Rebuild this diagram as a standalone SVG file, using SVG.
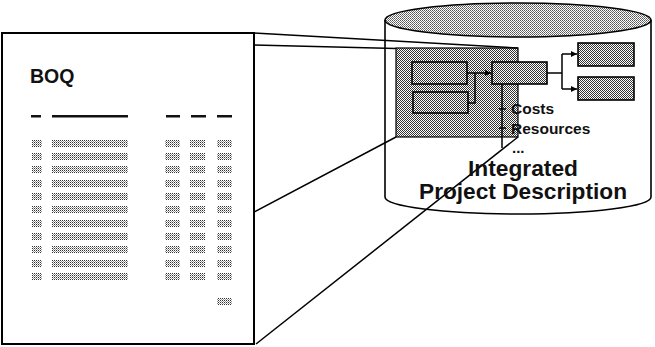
<svg xmlns="http://www.w3.org/2000/svg" width="655" height="347" viewBox="0 0 655 347">
<defs>
<pattern id="dk" width="2" height="2" patternUnits="userSpaceOnUse"><rect width="2" height="2" fill="#fff"/><rect width="1" height="1" fill="#333"/><rect x="1" y="1" width="1" height="1" fill="#333"/></pattern>
<pattern id="lt" width="2" height="2" patternUnits="userSpaceOnUse"><rect width="2" height="2" fill="#fff"/><rect width="1" height="1" fill="#555"/><rect x="1" y="1" width="1" height="1" fill="#777"/></pattern>
<pattern id="row" width="2" height="2" patternUnits="userSpaceOnUse"><rect width="2" height="2" fill="#fff"/><rect width="1" height="1" fill="#333"/><rect x="1" y="1" width="1" height="1" fill="#999"/></pattern>
<marker id="ah" viewBox="0 0 10 10" refX="10" refY="5" markerWidth="6" markerHeight="6" markerUnits="userSpaceOnUse" orient="auto"><path d="M0,0 L10,5 L0,10 z" fill="#000"/></marker>
<g id="r1" fill="url(#row)"><rect x="32" y="0" width="10" height="7"/><rect x="52" y="0" width="76" height="7"/><rect x="165" y="0" width="15" height="7"/><rect x="190" y="0" width="15" height="7"/><rect x="217" y="0" width="15" height="7"/></g>
</defs>
<style>
.ln{stroke:#000;stroke-width:1.5;fill:none}
.bx{fill:url(#dk);stroke:#000;stroke-width:1.6}
.t{font-family:"Liberation Sans",Arial,sans-serif;font-weight:bold;fill:#111}
</style>
<rect width="655" height="347" fill="#fff"/>

<g id="page">
<rect x="2" y="33" width="252" height="311" fill="#fff" stroke="#000" stroke-width="2"/>
<text class="t" x="30" y="83" font-size="19.5">BOQ</text>
<g fill="#111">
<rect x="31" y="115" width="10" height="2.5"/>
<rect x="52" y="115" width="76" height="2.5"/>
<rect x="166" y="115" width="14" height="2.5"/>
<rect x="191" y="115" width="15" height="2.5"/>
<rect x="217" y="115" width="15" height="2.5"/>
</g>
<g>
<use href="#r1" y="140"/>
<use href="#r1" y="153"/>
<use href="#r1" y="166"/>
<use href="#r1" y="180"/>
<use href="#r1" y="193"/>
<use href="#r1" y="206"/>
<use href="#r1" y="220"/>
<use href="#r1" y="233"/>
<use href="#r1" y="246"/>
<use href="#r1" y="260"/>
<use href="#r1" y="273"/>
<rect x="217" y="298" width="15" height="7" fill="url(#row)"/>
</g>
</g>

<g id="cylinder">
<path d="M385,20 L385,197 A133,17 0 0 0 651,197 L651,20" fill="#fff" stroke="#000" stroke-width="1.6"/>
<ellipse cx="518" cy="20" rx="133" ry="17" fill="url(#lt)" stroke="#000" stroke-width="1.6"/>
</g>

<g id="model">
<rect x="396" y="48" width="122" height="89" fill="url(#dk)" stroke="#000" stroke-width="1.2"/>
</g>
<g id="box1"><rect class="bx" x="412" y="62" width="55" height="22"/></g>
<g id="box2"><rect class="bx" x="413" y="92" width="55" height="21"/></g>
<g id="box3"><rect class="bx" x="492" y="62" width="55" height="22"/></g>
<g id="box4"><rect class="bx" x="578" y="43" width="56" height="23"/></g>
<g id="box5"><rect class="bx" x="578" y="77" width="56" height="23"/></g>

<g id="connectors">
<line class="ln" x1="253" y1="33" x2="518" y2="48"/>
<line class="ln" x1="253" y1="45" x2="396" y2="48.5"/>
<line class="ln" x1="254" y1="212" x2="396" y2="137"/>
<line class="ln" x1="256" y1="344" x2="518" y2="137"/>
<line class="ln" x1="467" y1="73" x2="491" y2="73" marker-end="url(#ah)"/>
<polyline class="ln" points="468,103 475,103 475,73"/>
<line class="ln" x1="547" y1="73" x2="562" y2="73"/>
<line class="ln" x1="562" y1="54" x2="562" y2="89"/>
<line class="ln" x1="562" y1="54" x2="577" y2="54" marker-end="url(#ah)"/>
<line class="ln" x1="562" y1="89" x2="577" y2="89" marker-end="url(#ah)"/>
<line class="ln" x1="502" y1="84" x2="502" y2="148"/>
<line class="ln" x1="499" y1="109" x2="506" y2="109"/>
<line class="ln" x1="499" y1="128" x2="506" y2="128"/>
</g>

<g id="labels">
<text class="t" x="511" y="114" font-size="15.5">Costs</text>
<text class="t" x="511" y="134" font-size="15.5">Resources</text>
<text class="t" x="512" y="153" font-size="15">...</text>
<text class="t" x="523" y="176" font-size="21.5" text-anchor="middle" textLength="110" lengthAdjust="spacingAndGlyphs">Integrated</text>
<text class="t" x="523" y="199" font-size="21.5" text-anchor="middle" textLength="208" lengthAdjust="spacingAndGlyphs">Project Description</text>
</g>
</svg>
